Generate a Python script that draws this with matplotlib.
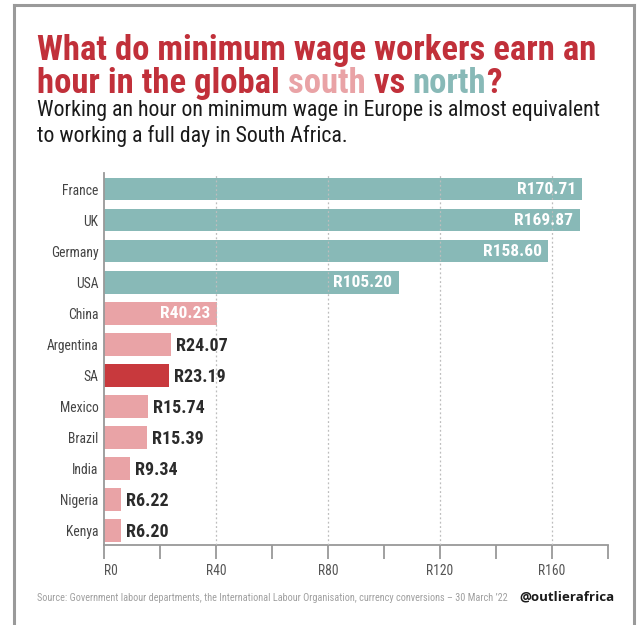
import matplotlib
matplotlib.use("Agg")
import matplotlib.pyplot as plt
from matplotlib import font_manager
from matplotlib.lines import Line2D

# Data
countries = ["France", "UK", "Germany", "USA", "China", "Argentina", "SA",
             "Mexico", "Brazil", "India", "Nigeria", "Kenya"]
wages = [170.71, 169.87, 158.60, 105.20, 40.23, 24.07, 23.19,
         15.74, 15.39, 9.34, 6.22, 6.20]
region = ["north", "north", "north", "north", "south", "south", "highlight",
          "south", "south", "south", "south", "south"]
tick_values = [0, 20, 40, 60, 80, 100, 120, 140, 160, 180]
tick_labels = ["R0", "", "R40", "", "R80", "", "R120", "", "R160", ""]

TEAL = "#88b9b7"
PINK = "#e9a3a6"
RED = "#c8393d"
TITLE_RED = "#c1303a"
colors = {"north": TEAL, "south": PINK, "highlight": RED}

names = {f.name for f in font_manager.fontManager.ttflist}
FONT = "Roboto Condensed" if "Roboto Condensed" in names else "Roboto"
plt.rcParams["font.family"] = [FONT, "DejaVu Sans"]

W, H = 637, 625
fig = plt.figure(figsize=(W / 100, H / 100), dpi=100)
fig.patch.set_facecolor("white")

# frame around the graphic
for xs, ys in [((14, 14), (0, 620)), ((14, 634), (620, 620)), ((634, 634), (620, 0))]:
    fig.add_artist(Line2D([x / W for x in xs], [y / H for y in ys],
                          color="#9a9a9a", lw=2.2, transform=fig.transFigure))

ax = fig.add_axes([104 / W, 80 / H, 504 / W, 371.5 / H])
y = list(range(len(countries)))
ax.barh(y, wages, height=0.74, color=[colors[r] for r in region], zorder=2)
ax.set_xlim(0, 180)
ax.set_ylim(11.48, -0.5)

ax.set_yticks(y)
ax.set_yticklabels(countries, fontsize=9.8, color="#444444")
ax.tick_params(axis="y", length=0, pad=4)
ax.set_xticks(tick_values)
ax.set_xticklabels(tick_labels, fontsize=9.8, color="#555555")
ax.tick_params(axis="x", length=10, width=1.3, color="#999999", pad=4)
ax.get_xticklabels()[0].set_horizontalalignment("left")

for s in ["top", "right"]:
    ax.spines[s].set_visible(False)
for s in ["left", "bottom"]:
    ax.spines[s].set_color("#999999")
    ax.spines[s].set_linewidth(1.3)

for gx in [40, 80, 120, 160]:
    ax.axvline(gx, color="#bdbdbd", lw=0.9, ls=(0, (1.5, 2)), zorder=3)

# value labels
for i, (v, r) in enumerate(zip(wages, region)):
    txt = f"R{v:.2f}"
    if v > 35:
        ax.text(v - 2.2, i + 0.03, txt, ha="right", va="center", color="white",
                fontsize=12.5, fontweight="bold", zorder=4)
    else:
        ax.text(v + 1.8, i + 0.05, txt, ha="left", va="center", color="#2b2b2b",
                fontsize=13, fontweight="bold", zorder=4)

# title with coloured words
x0 = 37 / W
fig.text(x0, 1 - 60 / H, "What do minimum wage workers earn an", fontsize=24.9,
         fontweight="bold", color=TITLE_RED, va="baseline")
renderer = fig.canvas.get_renderer()
xcur = x0
for part, col in [("hour in the global ", TITLE_RED), ("south", PINK),
                  (" vs ", TITLE_RED), ("north", TEAL), ("?", TITLE_RED)]:
    t = fig.text(xcur, 1 - 93 / H, part, fontsize=24.9, fontweight="bold",
                 color=col, va="baseline")
    bb = t.get_window_extent(renderer=renderer)
    xcur = bb.x1 / W

fig.text(x0, 1 - 116 / H, "Working an hour on minimum wage in Europe is almost equivalent",
         fontsize=15.7, color="#1a1a1a", va="baseline")
fig.text(x0, 1 - 142 / H, "to working a full day in South Africa.",
         fontsize=15.7, color="#1a1a1a", va="baseline")

fig.text(x0, 1 - 598 / H,
         "Source: Government labour departments, the International Labour Organisation, "
         "currency conversions \u2013 30 March \u201922",
         fontsize=7.35, color="#a0a0a0", va="center")
fig.text(615 / W, 1 - 597 / H, "@outlierafrica", fontsize=9.6, fontweight="bold",
         color="#1a1a1a", ha="right", va="center", family=["Open Sans", "DejaVu Sans"])

fig.savefig("out.png", dpi=100, facecolor="white")
